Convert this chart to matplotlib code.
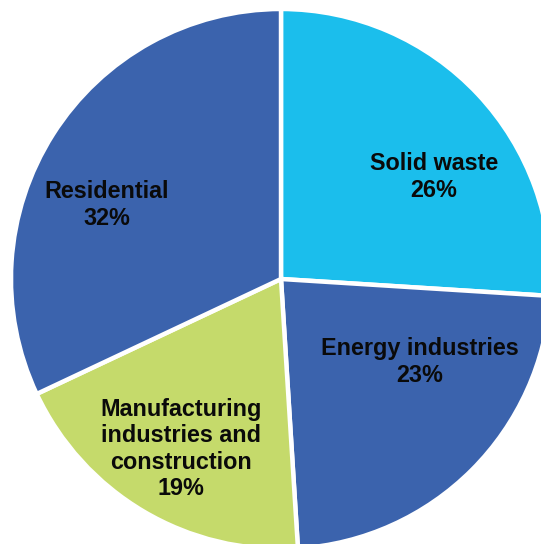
import matplotlib
matplotlib.use("Agg")
import matplotlib.pyplot as plt

categories = ["Solid waste", "Energy industries",
              "Manufacturing\nindustries and\nconstruction", "Residential"]
shares = [26, 23, 19, 32]
colors = ["#1BBEEC", "#3B63AD", "#C5DA6B", "#3B63AD"]

W, H, DPI = 541, 544, 100
fig = plt.figure(figsize=(W / DPI, H / DPI), dpi=DPI)
ax = fig.add_axes([0, 0, 1, 1])

cx, cy, R = 281, 279, 270  # pixel centre and radius
ax.pie(shares, colors=colors, startangle=90, counterclock=False, radius=R,
       center=(0, 0), wedgeprops=dict(edgecolor="white", linewidth=3.2))
ax.set_xlim(-cx, W - cx)
ax.set_ylim(cy - H, cy)
ax.set_aspect("equal")
ax.axis("off")

label_px = [(434, 177), (420, 362), (181, 449), (107, 205)]
for cat, val, (px, py) in zip(categories, shares, label_px):
    ax.text(px - cx, cy - py, f"{cat}\n{val}%", ha="center", va="center",
            fontsize=16.8, fontweight="bold", family="Liberation Sans",
            color="#0a0a0a", linespacing=1.2)

fig.savefig("out.png", dpi=DPI)
